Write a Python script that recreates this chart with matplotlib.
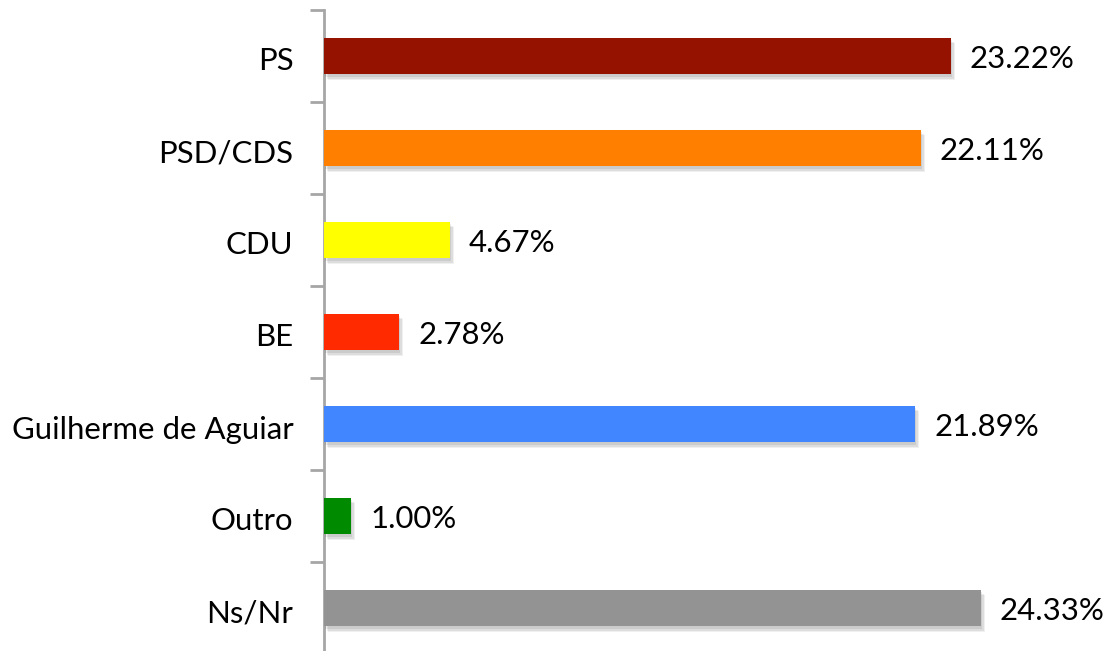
import matplotlib
matplotlib.use("Agg")
import matplotlib.pyplot as plt
import matplotlib.patheffects as pe
import matplotlib.transforms as mtransforms
import numpy as np

categories = ["PS", "PSD/CDS", "CDU", "BE", "Guilherme de Aguiar", "Outro", "Ns/Nr"]
values = [23.22, 22.11, 4.67, 2.78, 21.89, 1.00, 24.33]
colors = ["#951100", "#FF7F00", "#FFFF00", "#FF2A00", "#4286FF", "#008A00", "#939393"]
value_labels = ["23.22%", "22.11%", "4.67%", "2.78%", "21.89%", "1.00%", "24.33%"]

plt.rcParams['font.family'] = ['Lato', 'DejaVu Sans']

W, H = 1105, 651
fig = plt.figure(figsize=(W / 100, H / 100), dpi=100)
left = 324 / W
right = 1.0
top = 1 - 10 / H
bottom = (H - 654) / H
ax = fig.add_axes([left, bottom, right - left, top - bottom])

y = np.arange(len(categories))
bars = ax.barh(y, values, height=0.4, color=colors, zorder=3)
for b in bars:
    b.set_path_effects([
        pe.SimplePatchShadow(offset=(3, -4), shadow_rgbFace='#000000', alpha=0.06),
        pe.SimplePatchShadow(offset=(2, -3), shadow_rgbFace='#000000', alpha=0.08),
        pe.SimplePatchShadow(offset=(1, -2), shadow_rgbFace='#000000', alpha=0.08),
        pe.Normal()])

for yi, v, lab in zip(y, values, value_labels):
    ax.annotate(lab, xy=(v, yi), xytext=(19, -3), textcoords='offset pixels',
                va='center', ha='left', fontsize=22.4, color='#000000')

ax.set_xlim(0, (W - 324) / 27.0)
ax.set_ylim(len(categories) - 0.5, -0.5)

ax.set_yticks(y)
ax.set_yticklabels(categories, fontsize=22.4)
ax.tick_params(axis='y', which='major', length=0, pad=22)
shift = mtransforms.ScaledTranslation(0, -3 / 100, fig.dpi_scale_trans)
for t in ax.get_yticklabels():
    t.set_transform(t.get_transform() + shift)
ax.set_yticks(np.arange(-0.5, len(categories) + 0.5, 1), minor=True)
ax.tick_params(axis='y', which='minor', length=10, width=2, color='#A6A6A6')

ax.set_xticks([])
for s in ['top', 'right', 'bottom']:
    ax.spines[s].set_visible(False)
ax.spines['left'].set_color('#A6A6A6')
ax.spines['left'].set_linewidth(2)

fig.savefig("out.png", dpi=100)
